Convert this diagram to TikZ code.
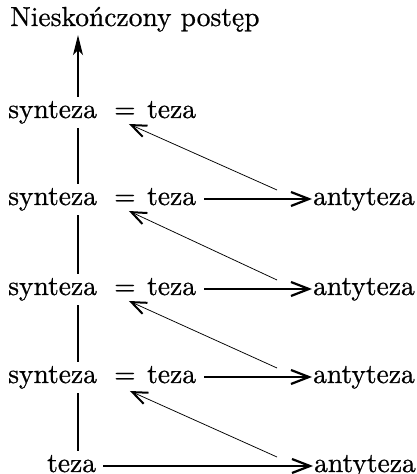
\documentclass[tikz,border=0pt]{standalone}
\usepackage{fontspec}
\setmainfont{lmroman10-regular.otf}[FakeBold=0.7]
\usetikzlibrary{arrows.meta}
\begin{document}
\begin{tikzpicture}[x=1pt,y=1pt,
  word/.style={inner sep=0pt, anchor=base west, text height=21pt, text depth=7pt,
               font=\fontsize{27.5}{32}\selectfont},
  hbarb/.tip={Straight Barb[length=18pt,width=14pt,line width=2.2pt]},
  dbarb/.tip={Straight Barb[length=15pt,width=12pt,line width=2pt]},
  spineline/.style={line width=1.1pt},
  hlink/.style={line width=1.6pt, -hbarb, shorten <=8pt, shorten >=1pt},
  dlink/.style={line width=0.75pt, -dbarb},
  uplink/.style={line width=1.2pt, -{Stealth[length=20pt,width=10pt,inset=5pt]}}]
\useasboundingbox (0,0) rectangle (417,474);

% header
\node[word] (top) at (10,448) {Nieskończony postęp};

% rows: synteza = teza -> antyteza
\foreach \k/\y in {1/356,2/269,3/179,4/91}{
  \node[word] (syn\k) at (8,\y) {synteza};
  \node[word] (eq\k) at (114,\y) {=};
  \node[word] (teza\k) at (147,\y) {teza};
}
\foreach \k/\y in {2/269,3/179,4/91}{
  \node[word] (anty\k) at (313,\y) {antyteza};
}
% bottom row
\node[word] (teza0) at (47,2) {teza};
\node[word] (anty0) at (314,2) {antyteza};

% vertical spine
\coordinate (spine) at (78,0);
\draw[uplink, shorten >=2pt] (syn1.north -| spine) -- (top.south -| spine);
\draw[spineline, shorten <=3pt] (syn1.south -| spine) -- (syn2.north -| spine);
\draw[spineline, shorten <=3pt] (syn2.south -| spine) -- (syn3.north -| spine);
\draw[spineline, shorten <=3pt] (syn3.south -| spine) -- (syn4.north -| spine);
\draw[spineline, shorten <=3pt] (syn4.south -| spine) -- (teza0.north -| spine);

% teza -> antyteza
\foreach \k in {2,3,4}{
  \draw[hlink] ([yshift=6pt]teza\k.base east) -- ([yshift=6pt]anty\k.base west);
}
\draw[hlink, shorten <=7pt] ([yshift=6pt]teza0.base east) -- ([yshift=6pt]anty0.base west);

% antyteza -> next synteza
\draw[dlink] ([xshift=-36pt,yshift=15pt]anty2.base west) -- ([xshift=4pt,yshift=-6pt]eq1.base);
\draw[dlink] ([xshift=-36pt,yshift=15pt]anty3.base west) -- ([xshift=4pt,yshift=-6pt]eq2.base);
\draw[dlink] ([xshift=-36pt,yshift=15pt]anty4.base west) -- ([xshift=4pt,yshift=-6pt]eq3.base);
\draw[dlink] ([xshift=-37pt,yshift=15pt]anty0.base west) -- ([xshift=5pt,yshift=-8pt]eq4.base);
\end{tikzpicture}
\end{document}
